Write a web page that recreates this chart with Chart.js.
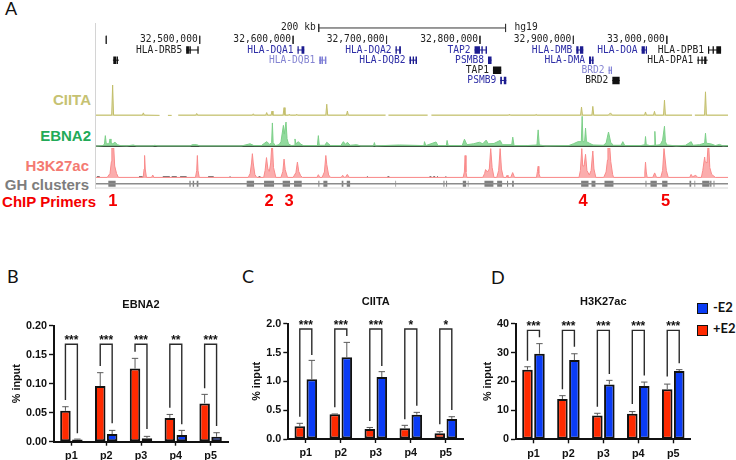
<!DOCTYPE html>
<html>
<head>
<meta charset="utf-8">
<title>HLA locus ChIP</title>
<script src="https://cdn.jsdelivr.net/npm/chart.js@4"></script>
<style>
  body { margin: 0; background: #fff; width: 736px; height: 460px; overflow: hidden; position: relative; }
  canvas { position: absolute; }
  canvas.track { filter: blur(0.35px); }
  .letter { position: absolute; font: 400 18px Lato, sans-serif; color: #111; }
  .trackName { position: absolute; font: bold 15px "Liberation Sans", sans-serif; text-align: right; transform: translateY(-50%); white-space: nowrap; }
  .swatch { position: absolute; width: 9px; height: 8.5px; border: 1.5px solid #111; }
  .legendText { position: absolute; font: bold 13px Lato, sans-serif; color: #111; transform: translateY(-50%); }
  #sideRule { position: absolute; left: 95px; top: 23px; width: 1px; height: 166px; background: #d4d4d4; }
</style>
</head>
<body>
<div class="letter" style="left:5px;top:-3px">A</div>
<div class="letter" style="left:7px;top:265px">B</div>
<div class="letter" style="left:242px;top:265px">C</div>
<div class="letter" style="left:491px;top:266px">D</div>

<div id="sideRule"></div>
<div class="trackName" style="right:645px;top:99px;color:#c6c272">CIITA</div>
<div class="trackName" style="right:645px;top:135px;color:#22aa58">EBNA2</div>
<div class="trackName" style="right:647px;top:165px;color:#f47a72">H3K27ac</div>
<div class="trackName" style="right:647px;top:184px;color:#7d7d7d">GH clusters</div>
<div class="trackName" style="right:640px;top:201px;color:#f40000">ChIP Primers</div>

<canvas id="genes" class="track" style="left:96px;top:20px" width="632" height="70"></canvas>
<canvas id="ciita" class="track" style="left:96px;top:85px" width="632" height="32"></canvas>
<canvas id="ebna2" class="track" style="left:96px;top:116px" width="632" height="32"></canvas>
<canvas id="h3k27ac" class="track" style="left:96px;top:148px" width="632" height="32"></canvas>
<canvas id="clusters" class="track" style="left:96px;top:178px" width="632" height="32"></canvas>

<canvas id="panelB" style="left:0px;top:290px" width="232" height="170"></canvas>
<canvas id="panelC" style="left:240px;top:290px" width="228" height="170"></canvas>
<canvas id="panelD" style="left:480px;top:290px" width="216" height="170"></canvas>

<div class="swatch" style="left:697px;top:303px;background:#0a3cf5"></div>
<div class="legendText" style="left:713px;top:307px">-E2</div>
<div class="swatch" style="left:697px;top:325px;background:#ff2a00"></div>
<div class="legendText" style="left:713px;top:328px">+E2</div>

<script>
// --- genome browser data (positions in kb on chr6, hg19) ---
const windowStart = 32389;
const windowEnd = 33065.5;

const coordKb = [32400, 32500, 32600, 32700, 32800, 32900, 33000];
const coordLabels = ["", "32,500,000", "32,600,000", "32,700,000", "32,800,000", "32,900,000", "33,000,000"];
const scaleBarKb = [32627.4, 32827.4];

const geneNames = ["", "HLA-DRB5", "HLA-DQA1", "HLA-DQB1", "HLA-DQA2", "HLA-DQB2", "TAP2", "PSMB8", "TAP1", "PSMB9", "HLA-DMB", "HLA-DMA", "BRD2", "BRD2", "HLA-DOA", "HLA-DPA1", "HLA-DPB1"];
const geneRow = [2, 1, 1, 2, 1, 2, 1, 2, 3, 4, 1, 2, 3, 4, 1, 2, 1];
const geneKind = [0, 0, 1, 2, 1, 1, 1, 1, 0, 1, 1, 1, 2, 0, 1, 0, 0];
const geneStart = [32407.1, 32485.5, 32604.7, 32627.9, 32709.6, 32724.6, 32794.2, 32808.6, 32813.9, 32821.7, 32903.1, 32916.7, 32937.7, 32941.7, 32973, 33032.7, 33044.1];
const geneEnd = [32413.5, 32498.7, 32611.9, 32635.4, 32715.4, 32732.6, 32807.5, 32812.4, 32822.8, 32828.2, 32910.6, 32921.6, 32941.3, 32949.5, 32978.8, 33043.7, 33058.1];
const geneExons = [
  [[32407.5, 32410.5], [32411, 32412.5]],
  [[32485.5, 32488.5], [32489, 32490.5], [32497.5, 32498.9]],
  [[32604.7, 32606], [32609, 32612]],
  [[32628, 32630], [32630.5, 32632], [32634, 32635.6]],
  [[32709.6, 32711], [32713.5, 32715.4]],
  [[32724.6, 32726.2], [32728, 32729.4], [32731, 32732.6]],
  [[32794.2, 32800], [32801.5, 32803], [32806, 32807.5]],
  [[32808.6, 32812.4]],
  [[32813.9, 32822.8]],
  [[32821.7, 32823.5], [32825.5, 32828.2]],
  [[32903.1, 32905.5], [32907, 32910.6]],
  [[32916.7, 32919], [32920, 32921.6]],
  [[32937.7, 32938.9], [32940.1, 32941.3]],
  [[32941.7, 32949.5]],
  [[32973, 32976.5], [32977.5, 32978.8]],
  [[33033, 33034.2], [33037, 33038.4], [33040, 33042.4]],
  [[33044.1, 33045.4], [33049, 33050.4], [33053, 33058.1]]
];

const ciitaKb = [32389, 32405.8, 32406.8, 32407.8, 32438.7, 32439.7, 32440.7, 32457, 32460, 32466, 32470, 32473, 32477, 32495.8, 32496.8, 32497.8, 32556.4, 32557.4, 32558.4, 32570.7, 32571.7, 32572.7, 32576.4, 32577.4, 32578.4, 32589.3, 32590.3, 32591.3, 32595, 32596, 32597, 32602.8, 32603.8, 32604.8, 32635, 32636, 32637, 32657.1, 32658.1, 32659.1, 32699, 32700, 32702, 32744, 32746, 32748, 32830.6, 32831.6, 32832.6, 32859.1, 32860.1, 32861.1, 32907.7, 32908.7, 32909.7, 32919.8, 32920.8, 32921.8, 32937.5, 32939.7, 32941.5, 32976.2, 32977.2, 32978.2, 32985.8, 32986.8, 32987.8, 32996.5, 32997.5, 32998.5, 33027, 33028, 33030, 33040.4, 33041.4, 33042.4, 33065.5];
const ciitaSignal = [3, 3, 100, 3, 3, 10, 3, 2, null, 2, 2, null, 3, 3, 8, 3, 3, 7, 3, 3, 11, 3, 3, 16, 3, 3, 27, 3, 3, 6, 3, 3, 6, 3, 3, 38, 3, 3, 16, 3, 3, null, 3, 3, null, 3, 3, 6, 3, 3, 5, 3, 3, 29, 3, 3, 31, 3, 3, 10, 3, 3, 13, 3, 3, 15, 3, 3, 51, 3, 3, null, 3, 3, 78, 3, 3];

const ebna2Kb = [32389, 32396, 32398, 32399, 32400, 32403, 32404, 32405, 32407, 32409.3, 32412, 32415, 32422, 32429, 32432, 32450, 32452, 32455, 32490, 32492, 32496.8, 32500, 32545, 32553.9, 32558, 32566, 32571.7, 32575, 32577, 32577.8, 32578.6, 32581, 32585, 32587, 32589.6, 32590.5, 32592.4, 32593.5, 32595, 32598, 32601, 32602, 32603, 32605.6, 32608, 32611, 32626, 32627, 32628, 32634, 32636, 32640, 32651, 32653.8, 32656, 32658.1, 32661, 32668, 32672, 32686, 32687, 32688, 32713.8, 32740, 32740.6, 32742, 32753, 32755, 32764, 32764.8, 32766, 32781, 32783.4, 32786, 32793, 32799.4, 32803, 32806.6, 32809, 32815, 32821.6, 32824, 32834, 32835.1, 32836.5, 32850, 32861, 32862.3, 32863.5, 32870, 32895, 32900, 32905, 32908.5, 32909.4, 32910.3, 32912, 32913, 32914, 32917, 32921, 32932, 32935, 32937.6, 32940, 32943, 32951, 32952.9, 32955, 32972, 32976.5, 32977.2, 32978, 32982, 32986.5, 32987.2, 32988, 32993, 32995.5, 32997.5, 32998.5, 33000, 33010, 33020, 33026.1, 33028, 33035, 33040.5, 33041.4, 33042.3, 33048, 33052, 33056.4, 33060, 33065.5];
const ebna2Signal = [0, 2, 6, 35, 8, 8, 24, 10, 8, 13, 5, 2, 1, 4, 1, 1, 3, 1, 1, 5, 5, 1, 1, 8, 2, 2, 15, 6, 12, 77, 12, 2, 5, 15, 69, 40, 80, 25, 8, 2, 3, 24, 8, 15, 7, 2, 2, 35, 3, 3, 13, 2, 2, 15, 6, 13, 3, 5, 1, 1, 12, 1, 4, 2, 15, 2, 14, 2, 2, 19, 2, 2, 23, 5, 8, 13, 8, 20, 8, 9, 19, 5, 5, 30, 2, 2, 4, 54, 4, 1, 2, 8, 15, 15, 99, 15, 15, 60, 15, 10, 4, 3, 10, 47, 12, 3, 3, 15, 2, 2, 5, 32, 5, 2, 3, 49, 3, 5, 20, 66, 15, 4, 1, 3, 15, 3, 5, 10, 43, 10, 7, 2, 6, 1, 2];

const h3k27acKb = [32389, 32401, 32404, 32405.5, 32406, 32408, 32409, 32411, 32413, 32439.5, 32440.5, 32441, 32441.7, 32443, 32448.5, 32449.7, 32451, 32495.5, 32496.8, 32497.5, 32498.2, 32499.5, 32552, 32554, 32555.5, 32556.4, 32557.3, 32559, 32561, 32568.5, 32570, 32571.5, 32573, 32574.5, 32576, 32577, 32578, 32579, 32581.5, 32587, 32589, 32590.3, 32591.5, 32594, 32600, 32603, 32604.6, 32606, 32608, 32610, 32625.5, 32627, 32628.5, 32631, 32633.5, 32635, 32636, 32638, 32640, 32651.5, 32653, 32655, 32656, 32658, 32660, 32782, 32783.3, 32784.1, 32785, 32786, 32803, 32805, 32806, 32808, 32810, 32811.5, 32813, 32815, 32818, 32820, 32821.6, 32823, 32825, 32828, 32829, 32830, 32833, 32835, 32837, 32860.5, 32861.5, 32862.3, 32863, 32864.5, 32906, 32907.5, 32909, 32910, 32911.5, 32913, 32914.5, 32917, 32919, 32920.8, 32922, 32924, 32932.5, 32935, 32936.5, 32937, 32939, 32940, 32942, 32943, 32975.7, 32976.5, 32977.2, 32978, 32979, 32985, 32987, 32989, 32993.5, 32995.5, 32997, 32998, 32999.5, 33001.5, 33024.5, 33026, 33027.5, 33031, 33033, 33037, 33038.5, 33040.5, 33041, 33043, 33044, 33045, 33046, 33048, 33052, 33065.5];
const h3k27acSignal = [2, 2, 15, 55, 100, 100, 40, 15, 2, 2, 30, 75, 30, 2, 2, 10, 2, 2, 25, 75, 25, 2, 2, 15, 50, 81, 50, 12, 2, 2, 25, 68, 30, 22, 50, 100, 100, 35, 2, 2, 22, 63, 28, 2, 2, 18, 53, 22, 8, 2, 2, 11, 2, 2, 20, 75, 45, 10, 2, 2, 9, 2, 2, 12, 2, 2, 20, 75, 20, 2, 2, 15, 28, 20, 30, 98, 35, 2, 2, 25, 98, 30, 2, 2, 9, 2, 2, 18, 2, 2, 22, 39, 15, 2, 2, 25, 98, 40, 40, 79, 25, 10, 25, 90, 30, 2, 2, 20, 60, 100, 100, 55, 12, 2, 2, 20, 53, 20, 2, 2, 17, 2, 2, 25, 98, 98, 25, 2, 2, 12, 4, 9, 2, 2, 25, 70, 55, 50, 100, 100, 35, 12, 2, 2];
const h3k27acDashStart = [32390, 32435, 32460.5, 32470, 32479, 32509, 32532, 32563, 32679, 32701, 32731.6, 32746, 32750, 32754, 32763];
const h3k27acDashEnd = [32393, 32439, 32468, 32475.5, 32486, 32515, 32533, 32565, 32680, 32703, 32732.6, 32748, 32752, 32755, 32764];

const clusterStart = [32402.2, 32489, 32492.5, 32496.8, 32550.3, 32568.9, 32588.8, 32601, 32627, 32632.4, 32652, 32657.4, 32709.5, 32731.6, 32760.9, 32763.8, 32781.6, 32787, 32804.8, 32818.4, 32829, 32834.4, 32908.3, 32919.4, 32933.3, 32977.2, 32982.5, 32995, 33024.3, 33029.6, 33037.9, 33046.4, 33050];
const clusterEnd = [32410, 32490.3, 32494, 32498.6, 32558.2, 32579.6, 32596.7, 32609.2, 32628.1, 32636.7, 32653.8, 32661, 32710.2, 32732.3, 32762, 32764.8, 32785.2, 32787.7, 32814.4, 32823.7, 32830.1, 32836.2, 32916.2, 32923.6, 32942.9, 32978.2, 32989.3, 33000.7, 33026.1, 33030.4, 33045.7, 33047.8, 33051];

const primerLabels = ["1", "2", "3", "4", "5"];
const primerKb = [32406.9, 32574.4, 32595.8, 32910.3, 32998.7];

// --- qPCR panels ---
const primers = ["p1", "p2", "p3", "p4", "p5"];

const ebna2Red = [0.0534, 0.096, 0.126, 0.041, 0.066];
const ebna2RedErr = [0.0603, 0.119, 0.1437, 0.047, 0.0816];
const ebna2Blue = [0.004, 0.0132, 0.006, 0.0115, 0.0086];
const ebna2BlueErr = [0.0045, 0.0195, 0.0092, 0.0195, 0.0155];
const ebna2LegRed = [0.0719, 0.1305, 0.155, 0.0587, 0.092];
const ebna2LegBlue = [0.0145, 0.0317, 0.0219, 0.03, 0.027];
const ebna2Stars = ["***", "***", "***", "**", "***"];

const ciitaRed = [0.22, 0.428, 0.173, 0.185, 0.098];
const ciitaRedErr = [0.272, 0.434, 0.2, 0.237, 0.127];
const ciitaBlue = [1.035, 1.416, 1.075, 0.422, 0.347];
const ciitaBlueErr = [1.364, 1.676, 1.168, 0.462, 0.387];
const ciitaLegRed = [0.387, 0.55, 0.312, 0.341, 0.254];
const ciitaLegBlue = [1.457, 1.786, 1.266, 0.578, 0.503];
const ciitaStars = ["***", "***", "***", "*", "*"];

const h3Red = [24.1, 13.95, 8.2, 8.8, 17.3];
const h3RedErr = [25.1, 15.1, 9, 9.6, 19.1];
const h3Blue = [29.6, 27.4, 19, 18.4, 23.6];
const h3BlueErr = [33.1, 29.6, 20.4, 19.8, 24.1];
const h3LegRed = [27.2, 17.3, 11.3, 12.2, 21.7];
const h3LegBlue = [35.3, 32, 22.6, 22.1, 26.3];
const h3Stars = ["***", "***", "***", "***", "***"];

const RED = "#ff2a00";
const BLUE = "#0a3cf5";
const geneBoxColor = ["#111111", "#1c1c90", "#7f7fd6"];
const geneTextColor = ["#222222", "#2e2ea6", "#8585d2"];
const MONO = '"DejaVu Sans Mono", monospace';
const SANS = '"Liberation Sans", Arial, sans-serif';

Chart.defaults.animation = false;
Chart.defaults.devicePixelRatio = 1;

function toPoints(kb, values) {
    return kb.map((x, i) => ({ x: x, y: values[i] }));
}

// one line with breaks: the start/end pairs stay separate marks on the same level
function segments(starts, ends, levels) {
    const pts = [];
    starts.forEach((s, i) => {
        const y = Array.isArray(levels) ? levels[i] : levels;
        pts.push({ x: s, y: y }, { x: ends[i], y: y }, { x: ends[i], y: null });
    });
    return pts;
}

function browserScales(yMin, yMax, reverse) {
    return {
        x: { type: "linear", display: false, min: windowStart, max: windowEnd },
        y: { type: "linear", display: false, min: yMin, max: yMax, reverse: !!reverse }
    };
}

function browserChart(id, datasets, yMin, yMax, reverse, extraPlugins) {
    return new Chart(document.getElementById(id), {
        type: "line",
        data: { datasets: datasets },
        plugins: extraPlugins || [],
        options: {
            responsive: false,
            layout: { padding: 0 },
            elements: { point: { radius: 0 }, line: { tension: 0, borderCapStyle: "butt" } },
            plugins: { legend: { display: false }, tooltip: { enabled: false } },
            scales: browserScales(yMin, yMax, reverse)
        }
    });
}

function wiggle(kb, values, stroke, fill) {
    return { data: toPoints(kb, values), borderColor: stroke, backgroundColor: fill, borderWidth: 1, fill: "origin", spanGaps: false };
}

// gene rows
const geneLabelPlugin = {
    id: "geneLabels",
    afterDraw(chart) {
        const { ctx, scales: { x, y } } = chart;
        ctx.save();
        ctx.font = "9.6px " + MONO;
        ctx.textBaseline = "middle";
        ctx.textAlign = "right";
        geneNames.forEach((name, i) => {
            if (!name) return;
            ctx.fillStyle = geneTextColor[geneKind[i]];
            ctx.fillText(name, x.getPixelForValue(geneStart[i]) - 4, y.getPixelForValue(geneRow[i]));
        });
        ctx.fillStyle = "#222";
        coordLabels.forEach((label, i) => {
            if (label) ctx.fillText(label, x.getPixelForValue(coordKb[i]) - 2, y.getPixelForValue(0));
        });
        ctx.fillText("200 kb", x.getPixelForValue(scaleBarKb[0]) - 3, y.getPixelForValue(-1.17));
        ctx.textAlign = "left";
        ctx.fillText("hg19", x.getPixelForValue(scaleBarKb[1]) + 9, y.getPixelForValue(-1.17));
        ctx.restore();
    }
};

function geneDatasets() {
    const sets = [];
    [0, 1, 2].forEach(kind => {
        const idx = geneNames.map((n, i) => i).filter(i => geneKind[i] === kind);
        sets.push({
            data: segments(idx.map(i => geneStart[i]), idx.map(i => geneEnd[i]), idx.map(i => geneRow[i])),
            borderColor: geneBoxColor[kind], borderWidth: 1, spanGaps: false
        });
        const exS = [], exE = [], exR = [];
        idx.forEach(i => geneExons[i].forEach(e => { exS.push(e[0]); exE.push(e[1]); exR.push(geneRow[i]); }));
        sets.push({ data: segments(exS, exE, exR), borderColor: geneBoxColor[kind], borderWidth: 7.5, spanGaps: false });
    });
    const tickPts = [];
    coordKb.concat(scaleBarKb).forEach((kb, i) => {
        const row = i < coordKb.length ? 0 : -1.17;
        tickPts.push({ x: kb, y: row - 0.4 }, { x: kb, y: row + 0.4 }, { x: kb, y: null });
    });
    sets.push({ data: tickPts, borderColor: "#333", borderWidth: 1, spanGaps: false });
    sets.push({ data: segments([scaleBarKb[0]], [scaleBarKb[1]], -1.17), borderColor: "#333", borderWidth: 1, spanGaps: false });
    return sets;
}

browserChart("genes", geneDatasets(), -1.956, 4.94, true, [geneLabelPlugin]);

browserChart("ciita", [wiggle(ciitaKb, ciitaSignal, "#c2be6a", "rgba(205,200,120,0.6)")], -3.3, 100);

browserChart("ebna2", [
    wiggle(ebna2Kb, ebna2Signal, "#7ccf88", "rgba(110,205,125,0.75)"),
    { data: segments([windowStart], [windowEnd], 0), borderColor: "#333", borderWidth: 1.6, spanGaps: false }
], -6, 100);

browserChart("h3k27ac", [
    wiggle(h3k27acKb, h3k27acSignal, "#f98a8a", "rgba(250,145,145,0.75)"),
    { data: segments(h3k27acDashStart, h3k27acDashEnd, 4), borderColor: "#444", borderWidth: 1, spanGaps: false }
], -6.7, 100);

const primerLabelPlugin = {
    id: "primerLabels",
    afterDraw(chart) {
        const { ctx, scales: { x, y } } = chart;
        ctx.save();
        ctx.font = "bold 16.5px " + SANS;
        ctx.fillStyle = "#f40000";
        ctx.textAlign = "center";
        ctx.textBaseline = "middle";
        primerLabels.forEach((label, i) => ctx.fillText(label, x.getPixelForValue(primerKb[i]), y.getPixelForValue(23)));
        ctx.restore();
    }
};

browserChart("clusters", [
    { data: segments([windowStart], [windowEnd], 5.7), borderColor: "#8c8c8c", borderWidth: 1.5, spanGaps: false },
    { data: segments([windowStart], [windowEnd], 10), borderColor: "#d6d6d6", borderWidth: 1, spanGaps: false },
    { data: segments(clusterStart, clusterEnd, 5.7), borderColor: "#7f7f7f", borderWidth: 6, spanGaps: false }
], 0, 32, true, [primerLabelPlugin]);

// error whiskers, brackets and significance stars on top of the bars
const sigPlugin = {
    id: "sigMarks",
    afterDatasetsDraw(chart, args, opts) {
        const { ctx, scales: { y } } = chart;
        const red = chart.getDatasetMeta(0).data;
        const blue = chart.getDatasetMeta(1).data;
        ctx.save();
        primers.forEach((p, i) => {
            const rx = red[i].x, bx = blue[i].x;
            [[rx, opts.red[i], opts.redErr[i]], [bx, opts.blue[i], opts.blueErr[i]]].forEach(([cx, val, top]) => {
                const y0 = y.getPixelForValue(val), y1 = y.getPixelForValue(top);
                ctx.strokeStyle = "#5a5a5a";
                ctx.lineWidth = 1;
                ctx.beginPath();
                ctx.moveTo(cx, y0);
                ctx.lineTo(cx, y1);
                ctx.moveTo(cx - 3.2, y1);
                ctx.lineTo(cx + 3.2, y1);
                ctx.stroke();
            });
            const by = y.getPixelForValue(opts.bracket);
            ctx.strokeStyle = "#2b2b2b";
            ctx.lineWidth = 1.4;
            ctx.beginPath();
            ctx.moveTo(rx, y.getPixelForValue(opts.legRed[i]));
            ctx.lineTo(rx, by);
            ctx.lineTo(bx, by);
            ctx.lineTo(bx, y.getPixelForValue(opts.legBlue[i]));
            ctx.stroke();
            ctx.fillStyle = "#111";
            ctx.font = "bold 12px " + SANS;
            ctx.textAlign = "center";
            ctx.textBaseline = "middle";
            ctx.fillText(opts.stars[i], (rx + bx) / 2, by - 3.5);
        });
        ctx.restore();
    }
};

function barPanel(id, cfg) {
    return new Chart(document.getElementById(id), {
        type: "bar",
        data: {
            labels: primers,
            datasets: [
                { label: "+E2", data: cfg.red, backgroundColor: RED },
                { label: "-E2", data: cfg.blue, backgroundColor: BLUE }
            ]
        },
        plugins: [sigPlugin],
        options: {
            responsive: false,
            layout: { padding: { left: 0, right: cfg.padRight, top: 0, bottom: 0 } },
            datasets: { bar: { categoryPercentage: 0.686, barPercentage: 0.88, borderColor: "#111", borderWidth: 2, borderSkipped: false } },
            plugins: {
                legend: { display: false },
                tooltip: { enabled: false },
                title: {
                    display: true,
                    text: cfg.title,
                    fullSize: false,
                    color: "#111",
                    font: { family: SANS, size: 11, weight: "bold", lineHeight: 1.2 },
                    padding: { top: cfg.titleTop, bottom: cfg.titleBottom }
                },
                sigMarks: {
                    red: cfg.red, redErr: cfg.redErr, blue: cfg.blue, blueErr: cfg.blueErr,
                    legRed: cfg.legRed, legBlue: cfg.legBlue, stars: cfg.stars, bracket: cfg.bracket
                }
            },
            scales: {
                x: {
                    afterFit: s => { s.height = cfg.xHeight; },
                    border: { color: "#111", width: 2 },
                    grid: { offset: false, drawOnChartArea: false, tickColor: "#111", tickWidth: 1.4, tickLength: 4 },
                    ticks: { color: "#111", padding: 4, font: { family: SANS, size: 10.8, weight: "bold" } }
                },
                y: {
                    min: 0,
                    max: cfg.max,
                    afterFit: s => { s.width = cfg.plotLeft; },
                    border: { color: "#111", width: 2 },
                    grid: { drawOnChartArea: false, tickColor: "#111", tickWidth: 1.4, tickLength: 5 },
                    title: {
                        display: true,
                        text: "% input",
                        color: "#111",
                        font: { family: SANS, size: 10.8, weight: "bold" },
                        padding: { top: cfg.yTitlePad, bottom: 0 }
                    },
                    ticks: {
                        stepSize: cfg.step,
                        color: "#111",
                        padding: 2,
                        font: { family: SANS, size: 10.8, weight: "bold" },
                        callback: v => v.toFixed(cfg.decimals)
                    }
                }
            }
        }
    });
}

barPanel("panelB", {
    title: "EBNA2", red: ebna2Red, redErr: ebna2RedErr, blue: ebna2Blue, blueErr: ebna2BlueErr,
    legRed: ebna2LegRed, legBlue: ebna2LegBlue, stars: ebna2Stars, bracket: 0.168,
    max: 0.2, step: 0.05, decimals: 2,
    plotLeft: 54, padRight: 4, xHeight: 18.3, titleTop: 8, titleBottom: 14.5, yTitlePad: 10.5
});
barPanel("panelC", {
    title: "CIITA", red: ciitaRed, redErr: ciitaRedErr, blue: ciitaBlue, blueErr: ciitaBlueErr,
    legRed: ciitaLegRed, legBlue: ciitaLegBlue, stars: ciitaStars, bracket: 1.908,
    max: 2, step: 0.5, decimals: 1,
    plotLeft: 48.3, padRight: 4.7, xHeight: 21, titleTop: 5.5, titleBottom: 15, yTitlePad: 11
});
barPanel("panelD", {
    title: "H3K27ac", red: h3Red, redErr: h3RedErr, blue: h3Blue, blueErr: h3BlueErr,
    legRed: h3LegRed, legBlue: h3LegBlue, stars: h3Stars, bracket: 37.7,
    max: 40, step: 10, decimals: 0,
    plotLeft: 36, padRight: 5.3, xHeight: 20.7, titleTop: 5.5, titleBottom: 15, yTitlePad: 2
});
</script>
</body>
</html>
